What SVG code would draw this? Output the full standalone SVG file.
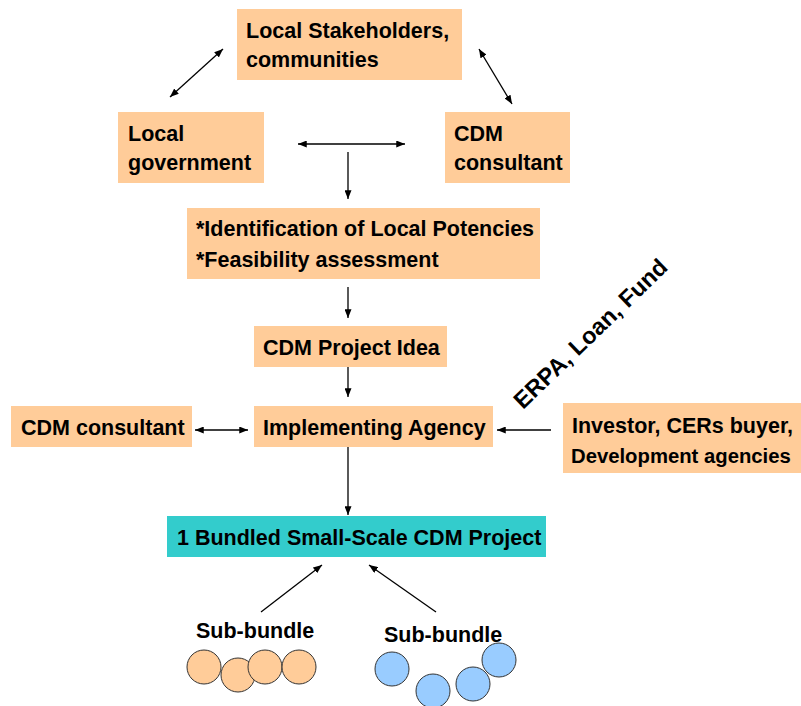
<svg xmlns="http://www.w3.org/2000/svg" width="801" height="706" viewBox="0 0 801 706">
<defs>
<marker id="ah" viewBox="0 0 10 8" refX="10" refY="4" markerWidth="9" markerHeight="7" markerUnits="userSpaceOnUse" orient="auto-start-reverse">
<path d="M0,0 L10,4 L0,8 Z" fill="#000"/>
</marker>
</defs>
<style>
.box{fill:#FFCC99;}
.teal{fill:#33CCCC;}
text{font-family:"Liberation Sans",Arial,sans-serif;font-weight:bold;font-size:21.5px;fill:#000;}
.c line{stroke:#000;stroke-width:1.3;}
.o{fill:#FFCC99;stroke:#333;stroke-width:1;}
.b{fill:#99CCFF;stroke:#333;stroke-width:1;}
</style>
<rect width="801" height="706" fill="#fff"/>
<g id="stakeholders"><rect class="box" x="237" y="9" width="225" height="71"/><text x="246" y="38">Local Stakeholders,</text><text x="246" y="67">communities</text></g>
<g id="local-gov"><rect class="box" x="118" y="112" width="146" height="71"/><text x="128" y="141">Local</text><text x="128" y="170">government</text></g>
<g id="cdm-consultant-top"><rect class="box" x="445" y="112" width="125" height="71"/><text x="454" y="141">CDM</text><text x="454" y="170">consultant</text></g>
<g id="identification"><rect class="box" x="187" y="208" width="353" height="71"/><text x="196" y="236">*Identification of Local Potencies</text><text x="196" y="267">*Feasibility assessment</text></g>
<g id="project-idea"><rect class="box" x="254" y="326" width="193" height="41"/><text x="263" y="355">CDM Project Idea</text></g>
<g id="cdm-consultant-left"><rect class="box" x="11" y="406" width="181" height="41"/><text x="21" y="435">CDM consultant</text></g>
<g id="implementing"><rect class="box" x="254" y="406" width="239" height="41"/><text x="263" y="435">Implementing Agency</text></g>
<g id="investor"><rect class="box" x="563" y="403" width="238" height="70"/><text x="572" y="433">Investor, CERs buyer,</text><text x="571" y="463" style="font-size:20.3px">Development agencies</text></g>
<g id="bundled"><rect class="teal" x="167" y="516" width="379" height="41"/><text x="177" y="545">1 Bundled Small-Scale CDM Project</text></g>
<g id="erpa"><text transform="translate(523,410) rotate(-44)" style="font-size:23.5px">ERPA, Loan, Fund</text></g>
<g id="sub-bundle-1"><text x="196" y="638">Sub-bundle</text>
<circle class="o" cx="204" cy="667" r="17"/><circle class="o" cx="238" cy="675" r="17"/><circle class="o" cx="265" cy="667" r="17"/><circle class="o" cx="299" cy="667" r="17"/></g>
<g id="sub-bundle-2"><text x="384" y="642">Sub-bundle</text>
<circle class="b" cx="392" cy="669" r="17"/><circle class="b" cx="433" cy="691" r="17"/><circle class="b" cx="473" cy="684" r="17"/><circle class="b" cx="499" cy="660" r="17"/></g>
<g id="connectors" class="c">
<line x1="223" y1="49" x2="170" y2="97" marker-start="url(#ah)" marker-end="url(#ah)"/>
<line x1="479" y1="49" x2="512" y2="104" marker-start="url(#ah)" marker-end="url(#ah)"/>
<line x1="298" y1="144" x2="405" y2="144" marker-start="url(#ah)" marker-end="url(#ah)"/>
<line x1="348" y1="152" x2="348" y2="199" marker-end="url(#ah)"/>
<line x1="348" y1="287" x2="348" y2="318" marker-end="url(#ah)"/>
<line x1="348" y1="367" x2="348" y2="397" marker-end="url(#ah)"/>
<line x1="195" y1="430" x2="248" y2="430" marker-start="url(#ah)" marker-end="url(#ah)"/>
<line x1="551" y1="430" x2="497" y2="430" marker-end="url(#ah)"/>
<line x1="348" y1="447" x2="348" y2="515" marker-end="url(#ah)"/>
<line x1="261" y1="612" x2="322" y2="565" marker-end="url(#ah)"/>
<line x1="436" y1="612" x2="369" y2="565" marker-end="url(#ah)"/>
</g>
</svg>
